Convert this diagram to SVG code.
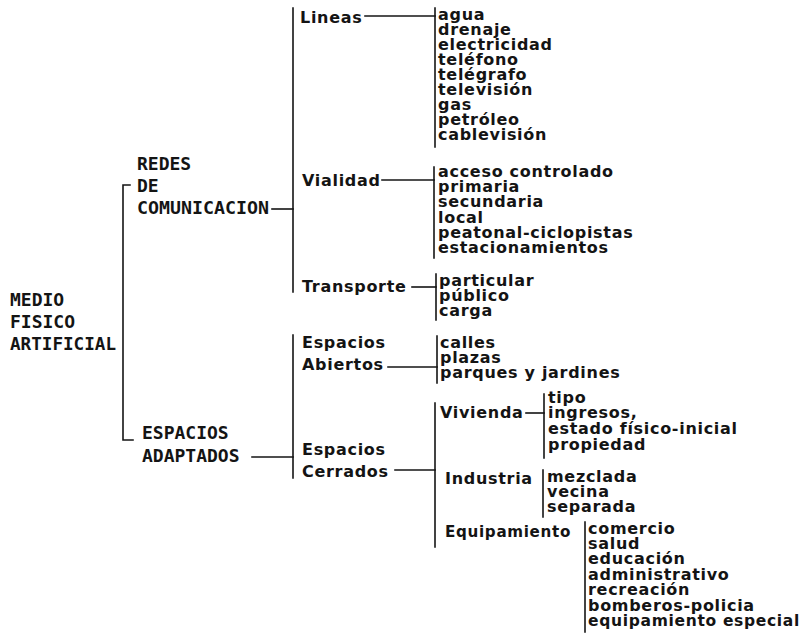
<svg xmlns="http://www.w3.org/2000/svg" width="807" height="633" viewBox="0 0 807 633">
  <style>
    .cap { font-family: "DejaVu Sans Mono", "Liberation Mono", monospace; font-weight: bold; font-size: 18px; fill: #141414; }
    .lbl { font-family: "DejaVu Sans", "Liberation Sans", sans-serif; font-weight: bold; font-size: 16px; letter-spacing: 0.7px; fill: #141414; }
    .ln { stroke: #141414; stroke-width: 1.6; fill: none; stroke-linecap: square; }
  </style>
  <rect width="807" height="633" fill="#ffffff"/>

  <!-- connectors: brackets and dashes -->
  <g id="connectors" class="ln">
    <!-- root bracket -->
    <path d="M130,185 H123 V440 H133"/>
    <!-- REDES DE COMUNICACION -> upper bracket -->
    <path d="M272,209 H293"/>
    <path d="M293,8 V292"/>
    <!-- ESPACIOS ADAPTADOS -> lower bracket -->
    <path d="M252,457 H293"/>
    <path d="M293,335 V478"/>
    <!-- Lineas -->
    <path d="M365,16 H435"/>
    <path d="M435,8 V147"/>
    <!-- Vialidad -->
    <path d="M382,180 H434"/>
    <path d="M434,167 V258"/>
    <!-- Transporte -->
    <path d="M412,287 H436"/>
    <path d="M436,274 V320"/>
    <!-- Espacios Abiertos -->
    <path d="M388,367 H437"/>
    <path d="M437,336 V383"/>
    <!-- Espacios Cerrados -> sub bracket -->
    <path d="M395,470 H435"/>
    <path d="M435,403 V547"/>
    <!-- Vivienda -->
    <path d="M526,413 H544"/>
    <path d="M544,394 V458"/>
    <!-- Industria -->
    <path d="M543,470 V517"/>
    <!-- Equipamiento -->
    <path d="M585,522 V632"/>
  </g>

  <g id="medio-fisico-artificial">
    <text class="cap" x="10" y="306">MEDIO</text>
    <text class="cap" x="10" y="328">FISICO</text>
    <text class="cap" x="10" y="350" textLength="106" lengthAdjust="spacingAndGlyphs">ARTIFICIAL</text>
  </g>

  <g id="redes-de-comunicacion">
    <text class="cap" x="137" y="170">REDES</text>
    <text class="cap" x="137" y="192">DE</text>
    <text class="cap" x="137" y="214" textLength="132" lengthAdjust="spacingAndGlyphs">COMUNICACION</text>
  </g>

  <g id="espacios-adaptados">
    <text class="cap" x="142" y="439">ESPACIOS</text>
    <text class="cap" x="142" y="462">ADAPTADOS</text>
  </g>

  <g id="lineas">
    <text class="lbl" x="300" y="23">Lineas</text>
  </g>
  <g id="lineas-items">
    <text class="lbl" x="438" y="20">agua</text>
    <text class="lbl" x="438" y="35">drenaje</text>
    <text class="lbl" x="438" y="50">electricidad</text>
    <text class="lbl" x="438" y="65">teléfono</text>
    <text class="lbl" x="438" y="80">telégrafo</text>
    <text class="lbl" x="438" y="95">televisión</text>
    <text class="lbl" x="438" y="110">gas</text>
    <text class="lbl" x="438" y="125">petróleo</text>
    <text class="lbl" x="438" y="140">cablevisión</text>
  </g>

  <g id="vialidad">
    <text class="lbl" x="302" y="186">Vialidad</text>
  </g>
  <g id="vialidad-items">
    <text class="lbl" x="438" y="177">acceso controlado</text>
    <text class="lbl" x="438" y="192">primaria</text>
    <text class="lbl" x="438" y="207">secundaria</text>
    <text class="lbl" x="438" y="222.5">local</text>
    <text class="lbl" x="438" y="238">peatonal-ciclopistas</text>
    <text class="lbl" x="438" y="253">estacionamientos</text>
  </g>

  <g id="transporte">
    <text class="lbl" x="302" y="292">Transporte</text>
  </g>
  <g id="transporte-items">
    <text class="lbl" x="439" y="286">particular</text>
    <text class="lbl" x="439" y="301">público</text>
    <text class="lbl" x="439" y="316">carga</text>
  </g>

  <g id="espacios-abiertos">
    <text class="lbl" x="302" y="348">Espacios</text>
    <text class="lbl" x="302" y="370">Abiertos</text>
  </g>
  <g id="abiertos-items">
    <text class="lbl" x="440" y="348">calles</text>
    <text class="lbl" x="440" y="363">plazas</text>
    <text class="lbl" x="440" y="378">parques y jardines</text>
  </g>

  <g id="espacios-cerrados">
    <text class="lbl" x="302" y="455">Espacios</text>
    <text class="lbl" x="302" y="477">Cerrados</text>
  </g>

  <g id="vivienda">
    <text class="lbl" x="440" y="418">Vivienda</text>
  </g>
  <g id="vivienda-items">
    <text class="lbl" x="548" y="403">tipo</text>
    <text class="lbl" x="548" y="418">ingresos,</text>
    <text class="lbl" x="548" y="434">estado físico-inicial</text>
    <text class="lbl" x="548" y="450">propiedad</text>
  </g>

  <g id="industria">
    <text class="lbl" x="445" y="484">Industria</text>
  </g>
  <g id="industria-items">
    <text class="lbl" x="547" y="482">mezclada</text>
    <text class="lbl" x="547" y="497">vecina</text>
    <text class="lbl" x="547" y="512">separada</text>
  </g>

  <g id="equipamiento">
    <text class="lbl" x="445" y="537" textLength="126" lengthAdjust="spacingAndGlyphs">Equipamiento</text>
  </g>
  <g id="equipamiento-items">
    <text class="lbl" x="588" y="534">comercio</text>
    <text class="lbl" x="588" y="549">salud</text>
    <text class="lbl" x="588" y="564">educación</text>
    <text class="lbl" x="588" y="580">administrativo</text>
    <text class="lbl" x="588" y="595">recreación</text>
    <text class="lbl" x="588" y="611">bomberos-policia</text>
    <text class="lbl" x="588" y="626" textLength="212" lengthAdjust="spacingAndGlyphs">equipamiento especial</text>
  </g>
</svg>
